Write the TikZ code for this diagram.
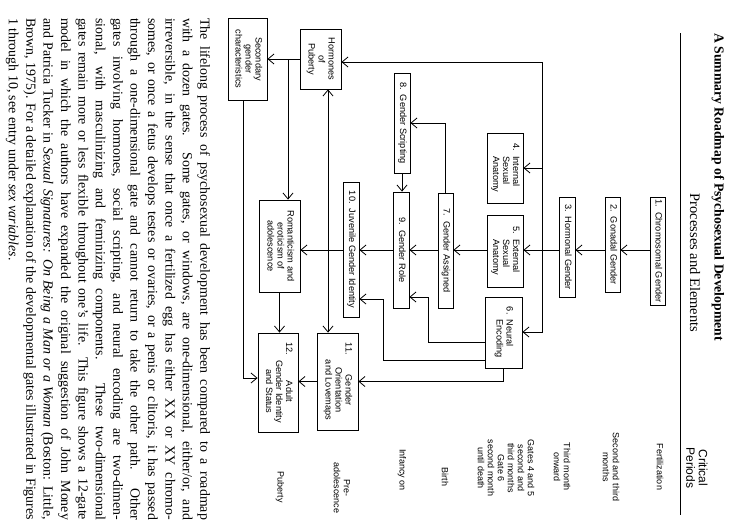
\documentclass[tikz,border=0pt]{standalone}
\usepackage{fontspec}
\setmainfont{Liberation Serif}
\setsansfont{Liberation Sans}
\usepackage{graphicx}
\usetikzlibrary{arrows.meta}

% turned text for the gate boxes
\newcommand{\vtab}[2]{\rotatebox{-90}{\begin{tabular}{@{}#1@{}}#2\end{tabular}}}

\tikzset{
  gate/.style={draw, inner sep=0pt, font=\sffamily\fontsize{9.2}{10}\selectfont},
  period/.style={rotate=-90, align=center, inner sep=0pt, font=\sffamily\fontsize{9}{10}\selectfont},
}

\begin{document}
\begin{tikzpicture}[x=1pt, y=-1pt, line width=0.8pt, >={Straight Barb[length=6pt,width=10pt]}]
  \useasboundingbox (0,0) rectangle (734,530);

  % heading
  \node[rotate=-90, font=\bfseries\fontsize{13.7}{16}\selectfont] (title) at (718,187) {A Summary Roadmap of Psychosexual Development};
  \node[rotate=-90, font=\fontsize{14.5}{16}\selectfont] (proc) at (695,263) {Processes and Elements};
  \node[rotate=-90, align=center, inner sep=0pt, font=\sffamily\fontsize{12}{12.5}\selectfont] (crit) at (697,468) {Critical\\Periods};
  \draw[line width=0.4pt] (680,33) -- (680,515);

  % gates
  \node[gate, minimum width=15, minimum height=108] (g1) at (657.5,251) {\vtab{c}{1.~~Chromosomal Gender}};
  \node[gate, minimum width=15, minimum height=95] (g2) at (612.5,244.5) {\vtab{c}{2.~~Gonadal Gender}};
  \node[gate, minimum width=16, minimum height=100] (g3) at (567,247) {\vtab{c}{3.~~Hormonal Gender}};
  \node[gate, minimum width=36, minimum height=70] (g4) at (505,168) {\vtab{l@{~~}l}{4. & Internal\\ & Sexual\\ & Anatomy}};
  \node[gate, minimum width=36, minimum height=72] (g5) at (505,251) {\vtab{l@{~~}l}{5. & External\\ & Sexual\\ & Anatomy}};
  \node[gate, minimum width=37, minimum height=71] (g6) at (503.5,332.5) {\vtab{l@{~~}l}{6. & Neural\\ & Encoding}};
  \node[gate, minimum width=15, minimum height=115] (g7) at (445.5,250.5) {\vtab{c}{7.~~Gender Assigned}};
  \node[gate, minimum width=16, minimum height=100] (g8) at (402,123) {\vtab{c}{8.~~Gender Scripting}};
  \node[gate, minimum width=16, minimum height=116] (g9) at (401,250) {\vtab{c}{9.~~Gender Role}};
  \node[gate, minimum width=16, minimum height=135] (g10) at (351,249.5) {\vtab{c}{10.~~Juvenile Gender Identity}};
  \node[gate, minimum width=41, minimum height=92] (rom) at (279.5,246) {\vtab{c}{Romanticism and\\eroticism of\\adolescence}};
  \node[gate, minimum width=41, minimum height=97] (g11) at (337.5,381.5) {\vtab{l@{~~}c}{11. & Gender\\ & Orientation\\ & and Lovemaps}};
  \node[gate, minimum width=40, minimum height=99] (g12) at (278,382.5) {\vtab{l@{~~}c}{12. & Adult\\ & Gender Identity\\ & and Status}};
  \node[gate, minimum width=41, minimum height=60] (hpub) at (320.5,59) {\vtab{c}{Hormones\\of\\Puberty}};
  \node[gate, minimum width=39, minimum height=82] (sec) at (247.5,59) {\vtab{c}{Secondary\\gender\\characteristics}};

  % critical periods
  \node[period] (fert) at (660,467) {Fertilization};
  \node[period] (second) at (611,467) {Second and third\\months};
  \node[period] (third) at (562,467) {Third month\\onward};
  \node[period] (gates) at (506,468) {Gates 4 and 5\\second and\\third months\\Gate 6\\second month\\until death};
  \node[period] (birth) at (445,477) {Birth};
  \node[period] (infancy) at (402,470) {Infancy on};
  \node[period] (preado) at (342,488) {Pre-\\adolescence};
  \node[period] (puberty) at (280,487) {Puberty};

  % main line
  \coordinate (spine) at (0,250);
  \draw[->] (g1.west |- spine) -- (g2.east |- spine);
  \draw[->] (g2.west |- spine) -- (g3.east |- spine);
  \draw[->] (g3.west |- spine) -- (g5.east |- spine);
  \draw[->] (g5.west |- spine) -- (g7.east |- spine);
  \draw[->] (g7.west |- spine) -- (g9.east |- spine);
  \draw[->] (g9.west |- spine) -- (g10.east |- spine);
  \draw[->] (g10.west |- spine) -- (rom.east |- spine);

  % hormonal branch
  \coordinate (busN) at (542,62);
  \coordinate (busS) at (542,332);
  \draw[<->] (hpub.east |- busN) -- (busN) -- (busS) -- (g6.east |- busS);
  \draw[->] (busN |- g4.east) -- (g4.east);

  % side links
  \draw[->] (g7.north) |- (g8.east);
  \draw[->] (g8.south) -- (g8.south |- g9.north);
  \draw[->] (g6.west |- 0,342) -| (428,297) -- (g9.east |- 0,297);
  \draw[->] (g6.west |- 0,360) -| (383,299) -- (g10.east |- 0,299);
  \draw[->] (g6.south) |- (g11.east);
  \draw[->] (g11.west) -- (g11.west -| g12.east);
  \draw[->] (rom.south) -- (rom.south |- g12.north);
  \draw[->] (hpub.west) -- (hpub.west -| sec.east);
  \coordinate (hj) at (288,59);
  \draw[->] (hj) -- (hj |- rom.north);
  \draw[<->] (hpub.south -| 328,0) -- (g11.north -| 328,0);
  \draw[->] (sec.south -| 243,0) |- (g12.west |- 0,378);

  % caption
  \node[rotate=-90, text width=502pt, align=justify, inner sep=0pt,
        font=\fontsize{13.9}{17.4}\selectfont] (caption) at (108,269)
  {\tolerance=10000 \hyphenpenalty=10000 \exhyphenpenalty=10000
   The lifelong process of psychosexual development has been compared to a roadmap\linebreak
   with a dozen gates. Some gates, or windows, are one-dimensional, either/or, and\linebreak
   irreversible, in the sense that once a fertilized egg has either XX or XY chromo-\linebreak
   somes, or once a fetus develops testes or ovaries, or a penis or clitoris, it has passed\linebreak
   through a one-dimensional gate and cannot return to take the other path. Other\linebreak
   gates involving hormones, social scripting, and neural encoding are two-dimen-\linebreak
   sional, with masculinizing and feminizing components. These two-dimensional\linebreak
   gates remain more or less flexible throughout one's life. This figure shows a 12-gate\linebreak
   model in which the authors have expanded the original suggestion of John Money\linebreak
   and Patricia Tucker in \emph{Sexual Signatures: On Being a Man or a Woman} (Boston: Little,\linebreak
   Brown, 1975). For a detailed explanation of the developmental gates illustrated in Figures\linebreak
   1 through 10, see entry under \emph{sex variables}.};
\end{tikzpicture}
\end{document}
